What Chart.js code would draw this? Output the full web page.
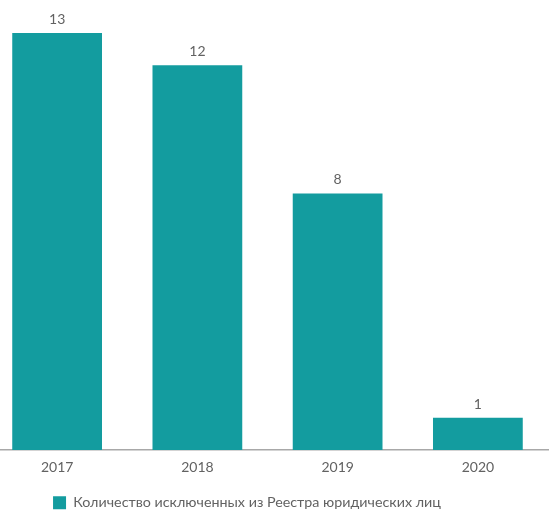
<!DOCTYPE html>
<html>
<head>
<meta charset="utf-8">
<script src="https://cdn.jsdelivr.net/npm/chart.js@4"></script>
<style>
  html, body { margin: 0; padding: 0; background: #fff; overflow: hidden; }
  #wrap { position: absolute; left: -54px; top: 0; width: 612px; height: 520px; }
</style>
</head>
<body>
<div id="wrap"><canvas id="chart"></canvas></div>
<script>
const years = ['2017', '2018', '2019', '2020'];
const excluded = [13, 12, 8, 1];
const seriesName = 'Количество исключенных из Реестра юридических лиц';

const TEAL = '#139c9f';
const TEXT = '#626262';

// value labels above the bars
const barValues = {
  id: 'barValues',
  afterDatasetsDraw(chart) {
    const ctx = chart.ctx;
    ctx.save();
    ctx.font = '14px Lato';
    ctx.fillStyle = TEXT;
    ctx.textAlign = 'center';
    ctx.textBaseline = 'alphabetic';
    chart.getDatasetMeta(0).data.forEach((bar, i) => {
      ctx.fillText(String(excluded[i]), bar.x, bar.y - 9);
    });
    ctx.restore();
  },
};

new Chart(document.getElementById('chart'), {
  type: 'bar',
  data: {
    labels: years,
    datasets: [{
      label: seriesName,
      data: excluded,
      backgroundColor: TEAL,
      borderWidth: 0,
      categoryPercentage: 1,
      barPercentage: 0.64,
    }],
  },
  options: {
    responsive: true,
    maintainAspectRatio: false,
    animation: false,
    layout: { padding: { top: 1, right: 10, bottom: 0, left: 0 } },
    scales: {
      x: {
        grid: { display: false, drawTicks: false },
        border: { display: true, color: '#a8a8a8', width: 1.5 },
        ticks: { color: TEXT, font: { family: 'Lato', size: 14 }, padding: 9 },
      },
      y: {
        min: 0,
        max: 14,
        grid: { display: false },
        border: { display: false },
        ticks: { display: false },
        // empty left strip, keeps the legend centred like the original
        afterFit(scale) { scale.width = 41; },
      },
    },
    plugins: {
      legend: {
        position: 'bottom',
        labels: {
          color: TEXT,
          font: { family: 'Lato', size: 14.3 },
          boxWidth: 13,
          boxHeight: 13,
          padding: 11,
        },
      },
      tooltip: { enabled: false },
    },
  },
  plugins: [barValues],
});
</script>
</body>
</html>
